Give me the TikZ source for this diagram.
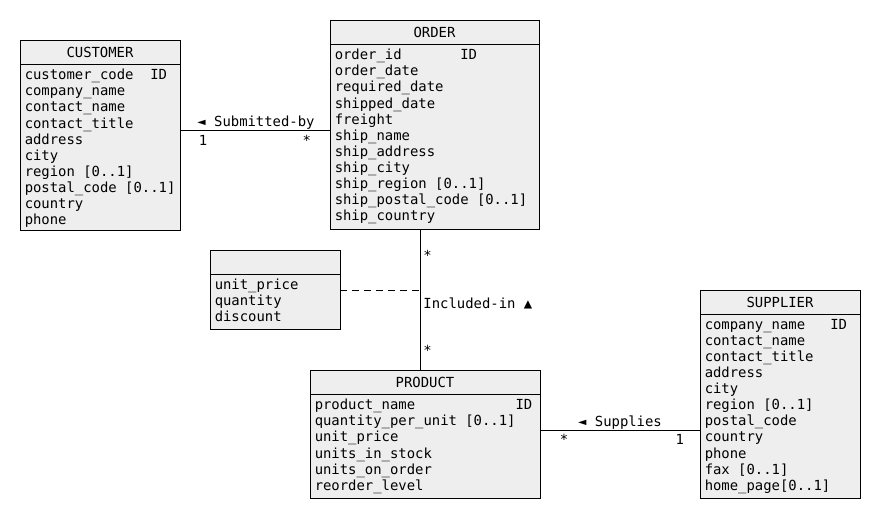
\documentclass[tikz,border=0pt]{standalone}
\usepackage{fontspec}
\setmonofont{DejaVu Sans Mono}
\usetikzlibrary{positioning}
\definecolor{classfill}{RGB}{238,238,238}
\newcommand{\umlfont}{\ttfamily\fontsize{13.9pt}{16.1pt}\selectfont}
\tikzstyle{classbox} = [rectangle, draw=black, fill=classfill, line width=0.9pt, inner sep=0pt]
\tikzstyle{classhead} = [classbox, minimum height=24pt, font=\umlfont]
\tikzstyle{attrlist} = [anchor=north west, align=left, inner xsep=5pt, inner ysep=4.5pt, font=\umlfont]
\tikzstyle{assoc} = [line width=0.9pt]
\tikzstyle{mult} = [font=\umlfont, inner sep=0pt]

\begin{document}
\begin{tikzpicture}[x=1pt, y=-1pt]
    \fill[white] (0,0) rectangle (880,520);
    \useasboundingbox (0,0) rectangle (880,520);

    % Customer
    \node[classbox, minimum width=160pt, minimum height=190pt] (customer) at (100,135) {};
    \node[classhead, minimum width=160pt, anchor=north] (customer-head) at (customer.north) {CUSTOMER};
    \node[attrlist] (customer-attrs) at (customer-head.south west) {customer\_code~~ID\\company\_name\\contact\_name\\contact\_title\\address\\city\\region [0..1]\\postal\_code [0..1]\\country\\phone};

    % Order
    \node[classbox, minimum width=209pt, minimum height=209pt] (order) at (434.5,124.5) {};
    \node[classhead, minimum width=209pt, anchor=north] (order-head) at (order.north) {ORDER};
    \node[attrlist] (order-attrs) at (order-head.south west) {order\_id~~~~~~~ID\\order\_date\\required\_date\\shipped\_date\\freight\\ship\_name\\ship\_address\\ship\_city\\ship\_region [0..1]\\ship\_postal\_code [0..1]\\ship\_country};

    % Association class
    \node[classbox, minimum width=130pt, minimum height=79pt] (line) at (275,289.5) {};
    \node[classhead, minimum width=130pt, anchor=north] (line-head) at (line.north) {};
    \node[attrlist] (line-attrs) at (line-head.south west) {unit\_price\\quantity\\discount};

    % Product
    \node[classbox, minimum width=230pt, minimum height=128pt] (product) at (425,434) {};
    \node[classhead, minimum width=230pt, anchor=north] (product-head) at (product.north) {PRODUCT};
    \node[attrlist] (product-attrs) at (product-head.south west) {product\_name~~~~~~~~~~~~ID\\quantity\_per\_unit [0..1]\\unit\_price\\units\_in\_stock\\units\_on\_order\\reorder\_level};

    % Supplier
    \node[classbox, minimum width=160pt, minimum height=208pt] (supplier) at (780,394) {};
    \node[classhead, minimum width=160pt, anchor=north] (supplier-head) at (supplier.north) {SUPPLIER};
    \node[attrlist] (supplier-attrs) at (supplier-head.south west) {company\_name~~~ID\\contact\_name\\contact\_title\\address\\city\\region [0..1]\\postal\_code\\country\\phone\\fax [0..1]\\home\_page[0..1]};

    % Associations
    \draw[assoc] ([yshift=5pt]customer.east) -- ([yshift=5pt]customer.east -| order.west)
        node[mult, midway, anchor=base, yshift=4pt, xshift=1pt] {◄ Submitted-by}
        node[mult, pos=0, anchor=base west, xshift=18pt, yshift=-15pt] {1}
        node[mult, pos=1, anchor=base east, xshift=-18pt, yshift=-15pt] {*};
    \draw[assoc] ([xshift=-5pt]product.north |- order.south) coordinate (incl-top) -- ([xshift=-5pt]product.north)
        node[mult, midway, anchor=base west, xshift=3pt, yshift=-8.5pt] {Included-in ▲}
        node[mult, pos=0, anchor=base west, xshift=3pt, yshift=-31pt] {*}
        node[mult, pos=1, anchor=base west, xshift=3pt, yshift=14pt] {*};
    \draw[assoc, dash pattern=on 7pt off 5pt] ([yshift=-1pt]line.east) -- ([yshift=-1pt]line.east -| incl-top);
    \draw[assoc] ([yshift=4pt]product.east) -- ([yshift=4pt]product.east -| supplier.west)
        node[mult, midway, anchor=base, yshift=4pt] {◄ Supplies}
        node[mult, pos=0, anchor=base west, xshift=19pt, yshift=-14pt] {*}
        node[mult, pos=1, anchor=base east, xshift=-15pt, yshift=-14pt] {1};
\end{tikzpicture}
\end{document}
